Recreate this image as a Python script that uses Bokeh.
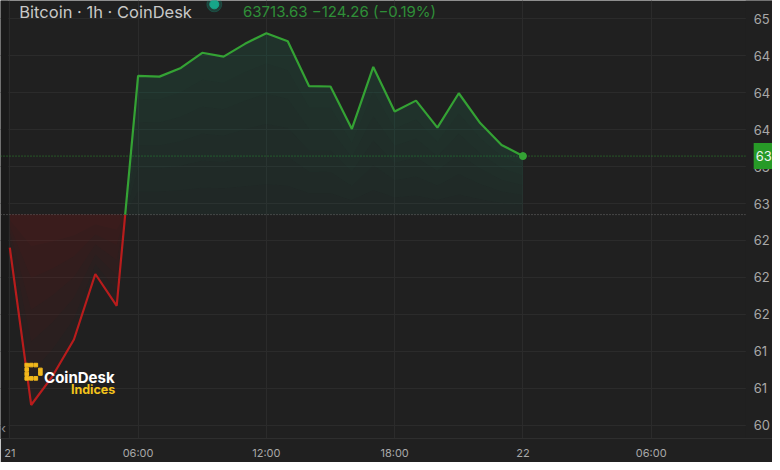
import numpy as np
from bokeh.plotting import figure
from bokeh.models import Range1d, FixedTicker, Span, Label, BoxAnnotation
from bokeh.core.properties import value
from bokeh.embed import file_html
from bokeh.resources import INLINE

# ---------------- data ----------------
hours = list(range(25))
prices = [62722, 61019, 61332, 61728, 62437, 62093, 64582, 64574, 64668, 64832,
          64790, 64929, 65044, 64957, 64470, 64467, 64008, 64679, 64196, 64314,
          64022, 64394, 64071, 63834, 63713.63]
baseline_price = 63080
last_price = 63713.63
change = -124.26
change_pct = -0.19
y_ticks = [65200, 64800, 64400, 64000, 63600, 63200, 62800, 62400, 62000, 61600, 61200, 60800]
y_tick_labels = ["65", "64", "64", "64", "63", "63", "62", "62", "62", "61", "61", "60"]
x_ticks = [0, 6, 12, 18, 24, 30]
x_tick_labels = ["21", "06:00", "12:00", "18:00", "22", "06:00"]

# ---------------- styling / layout ----------------
BG = "#202020"
GRID = "#2b2b2b"
RED = "#b81c1c"
GREEN = "#34a234"
LABEL = "#a8a8a8"
FONT = "Inter"

W, H = 772, 462
BOTTOM = 15
FW = W
FH = H - BOTTOM
X0, X1 = -0.435, 35.673
Y0, Y1 = 60656, 65398


def dx(px):  # reference pixel -> data x
    return X0 + (px * W / 780) / FW * (X1 - X0)


def dy(py):  # reference pixel -> data y
    return Y1 - (py * H / 470) / FH * (Y1 - Y0)


SCALE_X = dx(753)  # left edge of the price scale

p = figure(width=W, height=H, x_range=Range1d(X0, X1), y_range=Range1d(Y0, Y1),
           y_axis_location="right", output_backend="svg", toolbar_location=None,
           min_border_left=0, min_border_right=0, min_border_top=0,
           min_border_bottom=BOTTOM,
           background_fill_color=BG, border_fill_color=BG, outline_line_color=None)

# left strip
p.add_layout(BoxAnnotation(right=dx(8), fill_color="#1a1a1a", fill_alpha=1.0,
                           line_color=None, level="underlay"))

# ---------------- series split at baseline ----------------
x = np.array(hours, dtype=float)
y = np.array(prices, dtype=float)
xs, ys = [x[0]], [y[0]]
for i in range(len(x) - 1):
    a, b = y[i] - baseline_price, y[i + 1] - baseline_price
    if a * b < 0:
        t = a / (a - b)
        xs.append(x[i] + t * (x[i + 1] - x[i]))
        ys.append(baseline_price)
    xs.append(x[i + 1])
    ys.append(y[i + 1])
xs = np.array(xs)
ys = np.array(ys)

ytop = np.maximum(ys, baseline_price)
ybot = np.minimum(ys, baseline_price)

# green fill (gradient by layering)
p.varea(x=xs, y1=baseline_price, y2=ytop, fill_color="#2a7a66", fill_alpha=0.10)
N = 6
for k in range(1, N):
    p.varea(x=xs, y1=baseline_price + (ytop - baseline_price) * k / N, y2=ytop,
            fill_color="#2a7a66", fill_alpha=0.03)
# red fill
p.varea(x=xs, y1=ybot, y2=baseline_price, fill_color="#a02020", fill_alpha=0.05)
for k in range(1, N):
    p.varea(x=xs, y1=baseline_price + (ybot - baseline_price) * k / N, y2=baseline_price,
            fill_color="#a02020", fill_alpha=0.035)

# dotted reference lines
p.add_layout(Span(location=baseline_price, dimension="width", line_color="#6e6e6e",
                  line_dash="1 2", line_width=1, level="underlay"))
p.add_layout(Span(location=last_price, dimension="width", line_color="#2f8f2f",
                  line_dash="1 2", line_width=1, level="underlay"))

# price-scale background (covers grid / dotted lines right of the plot area)
p.add_layout(BoxAnnotation(left=SCALE_X, fill_color=BG, fill_alpha=1.0,
                           line_color=None, level="glyph"))

eps = 1e-6
green_y = np.where(ys >= baseline_price - eps, ys, np.nan)
red_y = np.where(ys <= baseline_price + eps, ys, np.nan)
p.line(xs, red_y, line_color=RED, line_width=2.2)
p.line(xs, green_y, line_color=GREEN, line_width=2.2)
p.scatter([hours[-1]], [last_price], size=7, color=GREEN)

# ---------------- axes / grid ----------------
p.xaxis.ticker = FixedTicker(ticks=x_ticks)
p.xaxis.major_label_overrides = {t: l for t, l in zip(x_ticks, x_tick_labels)}
p.xaxis.axis_line_color = "#2e2e2e"
p.xaxis.major_tick_line_color = None
p.xaxis.minor_tick_line_color = None
p.xaxis.major_label_standoff = 1
p.xaxis.major_label_text_color = LABEL
p.xaxis.major_label_text_font = FONT
p.xaxis.major_label_text_font_size = "11px"

p.yaxis.ticker = FixedTicker(ticks=y_ticks)
p.yaxis.major_label_overrides = {t: l for t, l in zip(y_ticks, y_tick_labels)}
p.yaxis.fixed_location = SCALE_X
p.yaxis.axis_line_color = None
p.yaxis.major_tick_line_color = None
p.yaxis.minor_tick_line_color = None
p.yaxis.major_label_standoff = 2
p.yaxis.major_label_text_color = LABEL
p.yaxis.major_label_text_font = FONT
p.yaxis.major_label_text_font_size = "13px"

p.xgrid.grid_line_color = GRID
p.ygrid.grid_line_color = GRID

# last price tag
p.add_layout(Label(x=dx(761), y=last_price, text=f"{last_price:.2f}"[:2],
                   text_baseline="middle", text_align="left",
                   text_color="#eef6ee", text_font=FONT, text_font_size="13px",
                   background_fill_color="#279a27", background_fill_alpha=1.0,
                   padding=(2, 8)))

# ---------------- header ----------------
p.text(x=[dx(19)], y=[dy(11.5)], text=["Bitcoin · 1h · CoinDesk"],
       text_font=value(FONT), text_font_size="16.5px", text_color="#c8c8c8",
       text_baseline="alphabetic", text_align="left")
p.scatter([dx(216)], [dy(4)], size=15, color="#17a589", alpha=0.25)
p.scatter([dx(216)], [dy(4)], size=9, color="#17a589")
p.text(x=[dx(245)], y=[dy(11.5)],
       text=[f"{last_price:.2f} \u2212{abs(change):.2f} (\u2212{abs(change_pct):.2f}%)"],
       text_font=value(FONT), text_font_size="15px", text_color="#2f8f38",
       text_baseline="alphabetic", text_align="left")

# ---------------- CoinDesk Indices logo ----------------
dots = [(0, 0), (1, 0), (2, 0), (0, 1), (0, 2), (0, 3), (1, 3), (2, 3), (3, 1.1), (3, 1.9)]
p.scatter([dx(26.5 + c * 4.6) for c, r in dots], [dy(378.5 + r * 4.6) for c, r in dots],
          marker="square", size=3.6, color="#f2b81c")
p.text(x=[dx(44)], y=[dy(391)], text=["CoinDesk"], text_font=value(FONT),
       text_font_size="15px", text_font_style="bold", text_color="#ffffff",
       text_baseline="alphabetic", text_align="left")
p.text(x=[dx(116)], y=[dy(404)], text=["Indices"], text_font=value(FONT),
       text_font_size="12.5px", text_font_style="bold", text_color="#f2c21c",
       text_baseline="alphabetic", text_align="right")

p.text(x=[dx(3)], y=[dy(444)], text=["\u2039"], text_font=value(FONT),
       text_font_size="13px", text_color="#8a8a8a",
       text_baseline="middle", text_align="center")

open("out.html", "w").write(file_html(p, INLINE))
